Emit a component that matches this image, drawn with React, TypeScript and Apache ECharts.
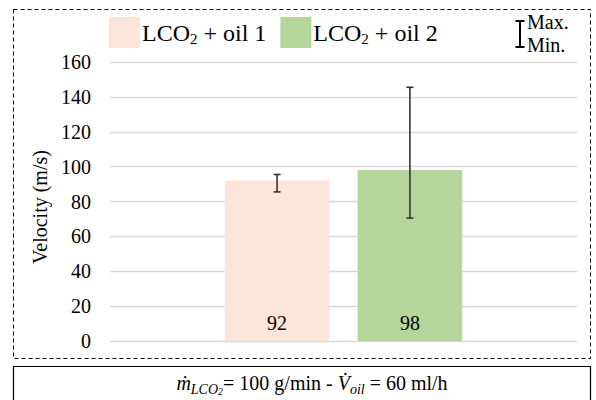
import React, { useEffect, useRef } from "react";
import * as echarts from "echarts";

const seriesNames = ["LCO2 + oil 1", "LCO2 + oil 2"];
const legendRich = ["{n|LCO}{s|2}{n| + oil 1}", "{n|LCO}{s|2}{n| + oil 2}"];
const categories = [""];
const velocity = [92, 98];
const maxValues = [95.5, 145.5];
const minValues = [85.5, 70.5];
const colors = ["#FBE6D9", "#B4D69B"];
const yTicks = { min: 0, max: 160, interval: 20 };

const FONT = "Liberation Serif";
const AXIS_FONT = "serif";
const BAR_W = 0.224;
const BAR_GAP = 0.27;

const txt = (size: number, lh: number, family: string, extra: any = {}) => ({
  fontFamily: family,
  fontSize: size,
  lineHeight: lh,
  color: "#000",
  ...extra,
});

export default function App() {
  const ref = useRef<HTMLDivElement>(null);
  useEffect(() => {
    if (!ref.current) return;
    const chart = echarts.init(ref.current, undefined, { renderer: "svg" });
    const errData = velocity.map((_, i) => [0, i, minValues[i], maxValues[i]]);
    const option: any = {
      animation: false,
      backgroundColor: "#fff",
      textStyle: { fontFamily: AXIS_FONT },
      grid: { left: 110, right: 19, top: 62, bottom: 59 },
      legend: {
        data: seriesNames,
        left: 109,
        top: 17,
        padding: 0,
        itemWidth: 31,
        itemHeight: 31,
        itemGap: 14,
        icon: "rect",
        formatter: (name: string) => legendRich[seriesNames.indexOf(name)],
        textStyle: {
          fontFamily: FONT,
          color: "#000",
          padding: [0, 0, 0, -3],
          rich: {
            n: txt(24, 28, FONT),
            s: txt(15, 14, FONT, { verticalAlign: "bottom" }),
          },
        },
      },
      xAxis: {
        type: "category",
        data: categories,
        axisLine: { show: false },
        axisTick: { show: false },
        axisLabel: { show: false },
      },
      yAxis: {
        type: "value",
        min: yTicks.min,
        max: yTicks.max,
        interval: yTicks.interval,
        name: "Velocity (m/s)",
        nameLocation: "middle",
        nameGap: 56,
        nameTextStyle: { fontFamily: AXIS_FONT, fontSize: 20, color: "#000", padding: [0, 11, 0, 0] },
        axisLine: { show: false },
        axisTick: { show: false },
        axisLabel: { margin: 19, fontFamily: AXIS_FONT, fontSize: 20, color: "#000" },
        splitLine: { lineStyle: { color: "#D9D9D9", width: 1.3 } },
      },
      series: [
        ...seriesNames.map((name, i) => ({
          name,
          type: "bar",
          data: [velocity[i]],
          barWidth: BAR_W * 100 + "%",
          barGap: BAR_GAP * 100 + "%",
          itemStyle: { color: colors[i] },
          label: {
            show: true,
            position: "insideBottom",
            distance: 8,
            fontFamily: AXIS_FONT,
            fontSize: 20,
            color: "#000",
          },
        })),
        {
          type: "custom",
          name: "err",
          data: errData,
          encode: { x: 0, y: [2, 3] },
          z: 10,
          renderItem: (params: any, api: any) => {
            const idx = api.value(1);
            const lo = api.coord([api.value(0), api.value(2)]);
            const hi = api.coord([api.value(0), api.value(3)]);
            const band = api.size([1, 0])[0];
            const bw = band * BAR_W;
            const n = seriesNames.length;
            const off = (idx - (n - 1) / 2) * bw * (1 + BAR_GAP);
            const x = lo[0] + off;
            const cap = 3.5;
            const style = { stroke: "#333", lineWidth: 1.6 };
            return {
              type: "group",
              children: [
                { type: "line", shape: { x1: x, y1: hi[1], x2: x, y2: lo[1] }, style },
                { type: "line", shape: { x1: x - cap, y1: hi[1], x2: x + cap, y2: hi[1] }, style },
                { type: "line", shape: { x1: x - cap, y1: lo[1], x2: x + cap, y2: lo[1] }, style },
              ],
            };
          },
        },
      ],
      graphic: [
        {
          type: "rect",
          silent: true,
          shape: { x: 13.5, y: 9.5, width: 577, height: 349 },
          style: { fill: "none", stroke: "#000", lineWidth: 1, lineDash: [4, 3] },
        },
        {
          type: "rect",
          silent: true,
          shape: { x: 13.5, y: 366.5, width: 577, height: 40 },
          style: { fill: "none", stroke: "#000", lineWidth: 1.2 },
        },
        {
          type: "group",
          silent: true,
          children: [
            { type: "line", shape: { x1: 520, y1: 21, x2: 520, y2: 47 }, style: { stroke: "#000", lineWidth: 2 } },
            { type: "line", shape: { x1: 515.5, y1: 21, x2: 524.5, y2: 21 }, style: { stroke: "#000", lineWidth: 2 } },
            { type: "line", shape: { x1: 515.5, y1: 47, x2: 524.5, y2: 47 }, style: { stroke: "#000", lineWidth: 2 } },
            {
              type: "text",
              x: 527,
              y: 22,
              style: { text: "Max.", font: "20px Liberation Serif", fill: "#000", textAlign: "left", textVerticalAlign: "middle" },
            },
            {
              type: "text",
              x: 527,
              y: 45,
              style: { text: "Min.", font: "20px Liberation Serif", fill: "#000", textAlign: "left", textVerticalAlign: "middle" },
            },
          ],
        },
        {
          type: "text",
          silent: true,
          x: 312,
          y: 383,
          style: {
            text: "{i|ṁ}{si|LCO}{ss|2}{r|= 100 g/min - }{i|V̇}{si|oil}{r| = 60 ml/h}",
            textAlign: "center",
            textVerticalAlign: "middle",
            fill: "#000",
            rich: {
              i: { fontFamily: FONT, fontStyle: "italic", fontSize: 20, lineHeight: 26, fill: "#000" },
              r: { fontFamily: FONT, fontSize: 20, lineHeight: 26, fill: "#000" },
              si: { fontFamily: FONT, fontStyle: "italic", fontSize: 14, lineHeight: 16, verticalAlign: "bottom", fill: "#000" },
              ss: { fontFamily: FONT, fontStyle: "italic", fontSize: 10, lineHeight: 8, verticalAlign: "bottom", fill: "#000" },
            },
          },
        },
      ],
    };
    chart.setOption(option);
    return () => chart.dispose();
  }, []);
  return <div ref={ref} style={{ width: 596, height: 400, position: "absolute", left: 0, top: 0 }} />;
}
